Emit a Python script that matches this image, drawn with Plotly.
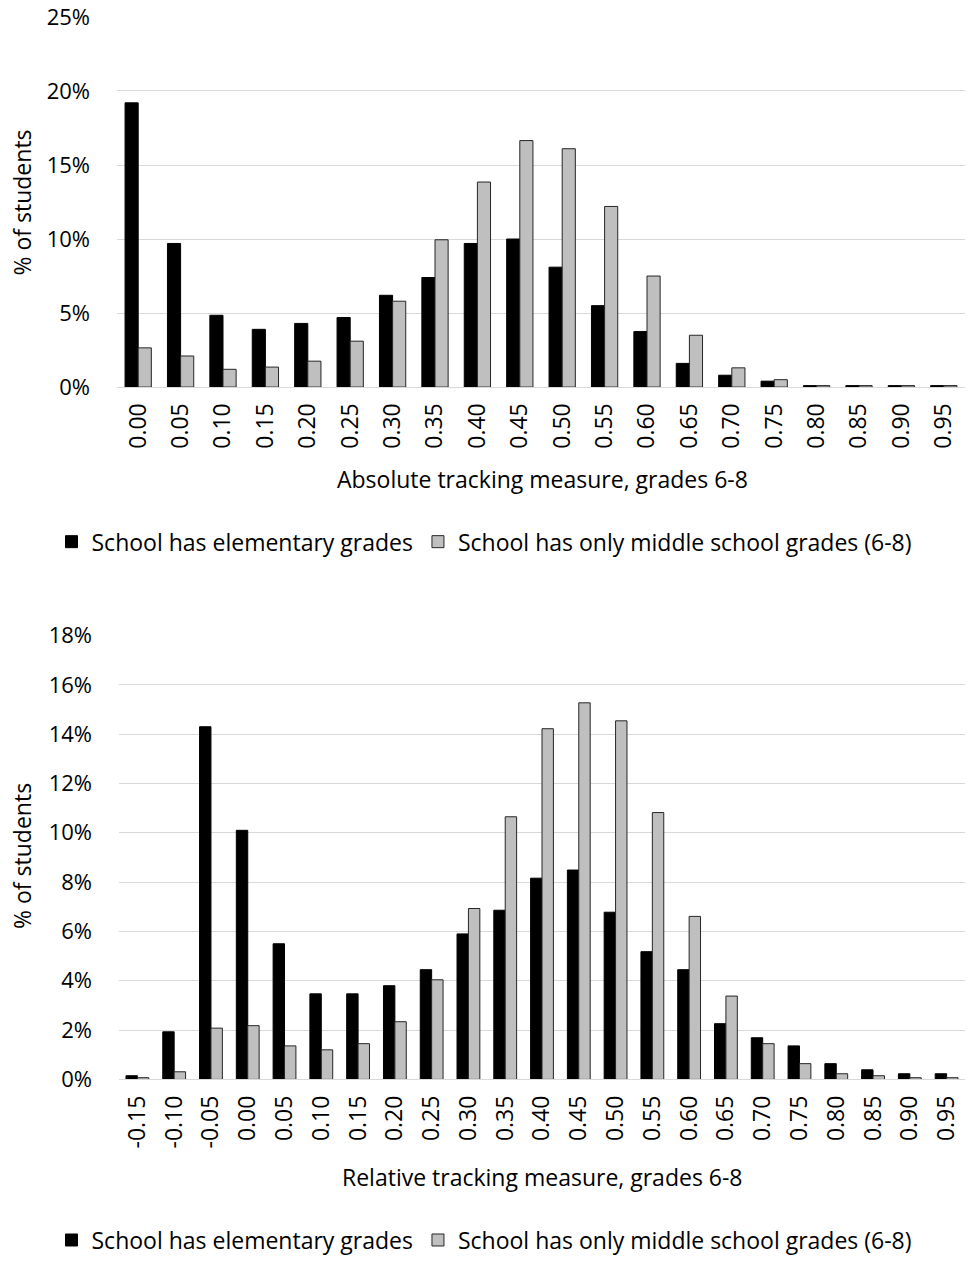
import plotly.graph_objects as go

# Absolute tracking measure, grades 6-8 (share of students, %)
abs_bins = ["0.00", "0.05", "0.10", "0.15", "0.20", "0.25", "0.30", "0.35", "0.40", "0.45",
            "0.50", "0.55", "0.60", "0.65", "0.70", "0.75", "0.80", "0.85", "0.90", "0.95"]
abs_elem = [19.2, 9.7, 4.85, 3.9, 4.3, 4.7, 6.2, 7.4, 9.7, 10.0,
            8.1, 5.5, 3.75, 1.6, 0.8, 0.4, 0.1, 0.1, 0.1, 0.1]
abs_mid = [2.65, 2.1, 1.2, 1.35, 1.75, 3.1, 5.8, 9.95, 13.85, 16.65,
           16.1, 12.2, 7.5, 3.5, 1.3, 0.5, 0.1, 0.1, 0.1, 0.1]

# Relative tracking measure, grades 6-8 (share of students, %)
rel_bins = ["-0.15", "-0.10", "-0.05", "0.00", "0.05", "0.10", "0.15", "0.20", "0.25", "0.30", "0.35",
            "0.40", "0.45", "0.50", "0.55", "0.60", "0.65", "0.70", "0.75", "0.80", "0.85", "0.90", "0.95"]
rel_elem = [0.15, 1.93, 14.3, 10.1, 5.5, 3.47, 3.47, 3.8, 4.45, 5.9, 6.86,
            8.16, 8.49, 6.78, 5.18, 4.45, 2.26, 1.69, 1.36, 0.64, 0.39, 0.23, 0.23]
rel_mid = [0.07, 0.31, 2.08, 2.18, 1.36, 1.2, 1.45, 2.34, 4.04, 6.93, 10.65,
           14.22, 15.27, 14.54, 10.82, 6.61, 3.38, 1.45, 0.64, 0.23, 0.15, 0.07, 0.07]

series_names = ["School has elementary grades", "School has only middle school grades (6-8)"]
x_titles = ["Absolute tracking measure, grades 6-8", "Relative tracking measure, grades 6-8"]
y_title = "% of students"
fill_colors = ["#000000", "#bfbfbf"]
edge_colors = ["#000000", "#262626"]

FONT = "Open Sans, Calibri, sans-serif"
W, H = 969, 1262

fig = go.Figure()

for i, vals in enumerate([abs_elem, abs_mid]):
    fig.add_trace(go.Bar(
        x=abs_bins, y=[v / 100 for v in vals], name=series_names[i],
        marker=dict(color=fill_colors[i], line=dict(color=edge_colors[i], width=1)),
        xaxis="x", yaxis="y", legend="legend",
    ))
for i, vals in enumerate([rel_elem, rel_mid]):
    fig.add_trace(go.Bar(
        x=rel_bins, y=[v / 100 for v in vals], name=series_names[i],
        marker=dict(color=fill_colors[i], line=dict(color=edge_colors[i], width=1)),
        xaxis="x2", yaxis="y2", legend="legend2",
    ))


def py(px):
    return 1 - px / H


def px_(x):
    return x / W


grid = "#d9d9d9"
xcommon = dict(type="category", showgrid=False, ticks="", showline=True, linecolor=grid,
               linewidth=1, tickangle=-90, tickfont=dict(family=FONT, size=23, color="#000"),
               automargin=False, ticklabelstandoff=6)
ycommon = dict(showgrid=True, gridcolor=grid, gridwidth=1, zeroline=False, ticks="",
               tickformat=".0%", tickfont=dict(family=FONT, size=22, color="#000"),
               automargin=False, ticklabelstandoff=26)

fig.update_layout(
    width=W, height=H,
    margin=dict(l=0, r=0, t=0, b=0),
    paper_bgcolor="white", plot_bgcolor="white",
    barmode="group", bargap=0.38, bargroupgap=0,
    font=dict(family=FONT, color="#000"),
    xaxis=dict(domain=[px_(117), px_(965)], anchor="y", **xcommon),
    yaxis=dict(domain=[py(388), py(17)], anchor="x", range=[0, 0.25], dtick=0.05, **ycommon),
    xaxis2=dict(domain=[px_(119), px_(965)], anchor="y2", **xcommon),
    yaxis2=dict(domain=[py(1082), py(637)], anchor="x2", range=[0, 0.18], dtick=0.02, **ycommon),
    legend=dict(orientation="h", x=0.5, xanchor="center", y=py(543), yanchor="middle",
                font=dict(family=FONT, size=23, color="#000"), itemwidth=30,
                traceorder="normal"),
    legend2=dict(orientation="h", x=0.5, xanchor="center", y=py(1243), yanchor="middle",
                 font=dict(family=FONT, size=23, color="#000"), itemwidth=30,
                 traceorder="normal"),
)

# Axis titles placed as paper-anchored text
title_font = dict(family=FONT, size=23, color="#000")
for xc, yc, txt in [(542, 480, x_titles[0]), (542, 1180, x_titles[1])]:
    fig.add_annotation(x=px_(xc), y=py(yc), xref="paper", yref="paper", text=txt,
                       showarrow=False, xanchor="center", yanchor="middle", font=title_font)
for yc in [203, 858]:
    fig.add_annotation(x=px_(22), y=py(yc), xref="paper", yref="paper", text=y_title,
                       textangle=-90, showarrow=False, xanchor="center", yanchor="middle",
                       font=title_font)

fig.write_html("out.html")
